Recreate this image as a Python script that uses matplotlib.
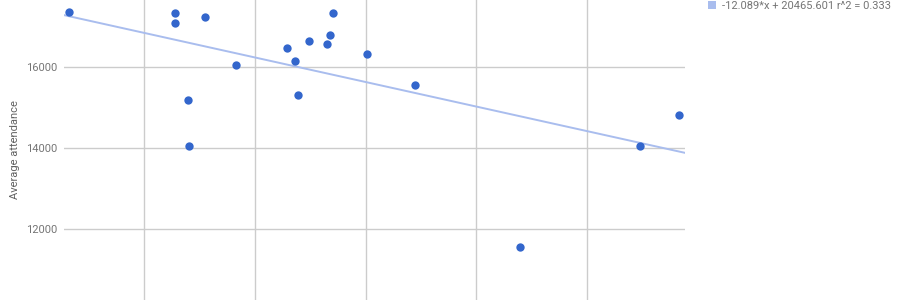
import matplotlib
matplotlib.use("Agg")
import matplotlib.pyplot as plt
from matplotlib.patches import Patch
import numpy as np

plt.rcParams['font.family'] = ['Roboto', 'DejaVu Sans']

# values
x_vals = [266.0, 313.7, 313.7, 327.4, 341.3, 319.6, 320.3, 364.6, 368.0, 369.6,
          374.6, 382.7, 384.0, 385.3, 400.5, 422.2, 470.0, 524.1, 541.9]
attendance = [17355, 17323, 17084, 17232, 16042, 15187, 14047, 16468, 16148, 15310,
              16633, 16566, 16781, 17330, 16313, 15557, 11559, 14054, 14818]

# trendline as printed in the legend
slope = -12.089
intercept = 20465.601
r2 = 0.333

y_ticks = [12000, 14000, 16000]
x_grid = [300, 350, 400, 450, 500]

fig = plt.figure(figsize=(9, 3), dpi=100)
ax = fig.add_axes([64 / 900, 0, 621 / 900, 1])

ax.set_xlim(263.7, 544.4)
ax.set_ylim(10259, 17650)

ax.set_xticks(x_grid)
ax.set_yticks(y_ticks)
ax.grid(True, color='#cccccc', linewidth=1)
ax.set_axisbelow(True)
ax.tick_params(axis='both', length=0, labelsize=8, labelcolor='#757575', pad=5)
ax.tick_params(axis='x', labelbottom=False)
for sp in ax.spines.values():
    sp.set_visible(False)

xs = np.array(ax.get_xlim())
ax.plot(xs, slope * xs + intercept, color='#a9bdee', linewidth=1.4, zorder=2)
ax.scatter(x_vals, attendance, s=36, color='#3366cc', zorder=3, linewidths=0)

ax.set_ylabel("Average attendance", fontsize=8, color='#616161', labelpad=4)

label = f"{slope:.3f}*x + {intercept:.3f} r^2 = {r2:.3f}"
fig.legend(handles=[Patch(facecolor='#a9bdee', edgecolor='none', label=label)],
           loc='upper left', bbox_to_anchor=(707 / 900, 1.0), frameon=False,
           borderaxespad=0, borderpad=0.1, handlelength=0.75, handleheight=0.75,
           handletextpad=0.5, fontsize=8, labelcolor='#757575')

fig.savefig('out.png', dpi=100)
